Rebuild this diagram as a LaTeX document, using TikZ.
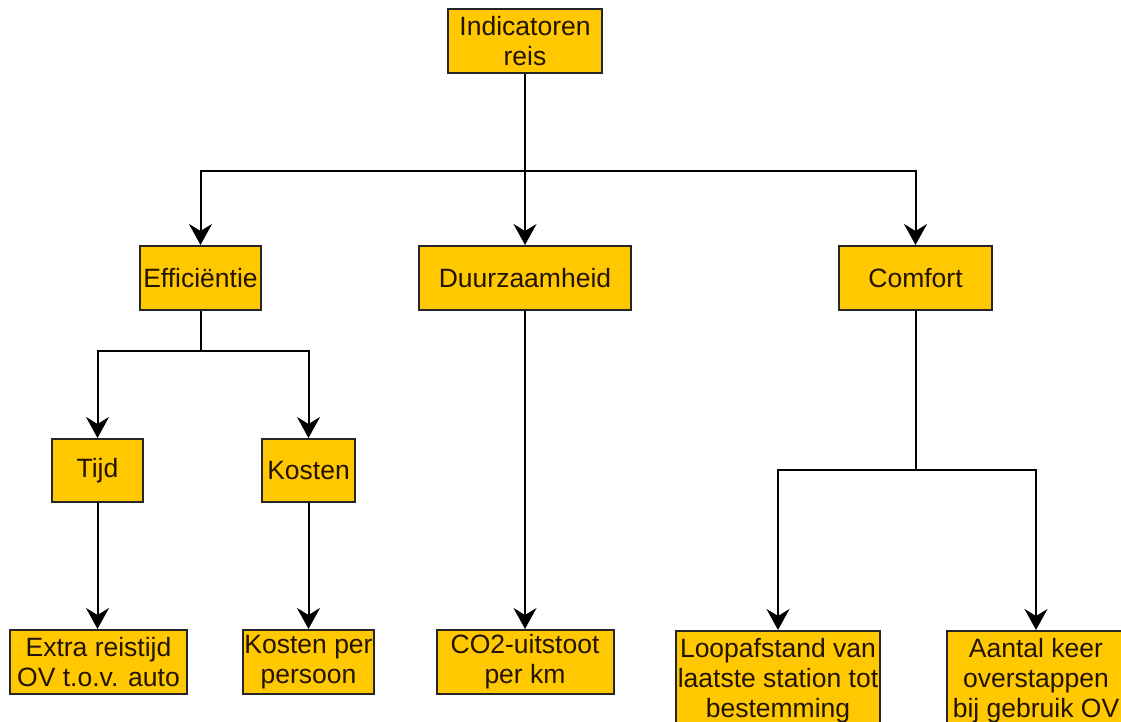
\documentclass[tikz,border=0pt]{standalone}
\usepackage{fontspec}
\setmainfont{Liberation Sans}
\usetikzlibrary{arrows.meta}
\definecolor{boxfill}{RGB}{255,200,0}
\definecolor{txt}{RGB}{35,20,0}
\tikzset{
  box/.style={draw=black!85, line width=2pt, fill=boxfill, inner sep=0pt, align=center,
    text=txt, font=\fontsize{26.5}{30}\selectfont},
  arr/.style={line width=2pt, -{Stealth[length=21pt,width=23pt,inset=7pt]}},
  ln/.style={line width=2pt}
}
\begin{document}
\begin{tikzpicture}[x=1pt,y=-1pt]
\useasboundingbox (0,0) rectangle (1121,722);
\fill[white] (0,0) rectangle (1121,722);
\node[box, minimum width=154pt, minimum height=64pt] (ind) at (525,41) {Indicatoren\\reis};
\node[box, minimum width=121pt, minimum height=64pt] (eff) at (200.5,278) {Efficiëntie};
\node[box, minimum width=212pt, minimum height=64pt] (duu) at (525,278) {Duurzaamheid};
\node[box, minimum width=153pt, minimum height=64pt] (com) at (915.5,278) {Comfort};
\node[box, minimum width=91pt, minimum height=63pt] (tij) at (97.5,470.5) {Tijd};
\node[box, minimum width=93pt, minimum height=63pt] (kos) at (308.5,470.5) {Kosten};
\node[box, minimum width=177pt, minimum height=64pt] (ext) at (98.5,662) {Extra reistijd\\OV t.o.v. auto};
\node[box, minimum width=131pt, minimum height=64pt] (kpp) at (308.5,662) {Kosten per\\persoon};
\node[box, minimum width=177pt, minimum height=64pt] (co2) at (525,662) {CO2-uitstoot\\per km};
\node[box, minimum width=204pt, minimum height=100pt, anchor=north] (loo) at (778,630) {Loopafstand van\\laatste station tot\\bestemming};
\node[box, minimum width=178pt, minimum height=100pt, anchor=north] (aan) at (1036,630) {Aantal keer\\overstappen\\bij gebruik OV};
\coordinate (b1) at (525,171);
\coordinate (b2) at (200.5,351);
\coordinate (b3) at (915.5,470);
\draw[ln] (ind) -- (b1);
\draw[arr] (b1) -| (eff);
\draw[arr] (b1) -- (duu);
\draw[arr] (b1) -| (com);
\draw[ln] (eff) -- (b2);
\draw[arr] (b2) -| (tij);
\draw[arr] (b2) -| (kos);
\draw[arr] (tij) -- (tij |- ext.north);
\draw[arr] (kos) -- (kpp);
\draw[arr] (duu) -- (co2);
\draw[ln] (com) -- (b3);
\draw[arr] (b3) -| (loo);
\draw[arr] (b3) -| (aan);
\end{tikzpicture}
\end{document}
